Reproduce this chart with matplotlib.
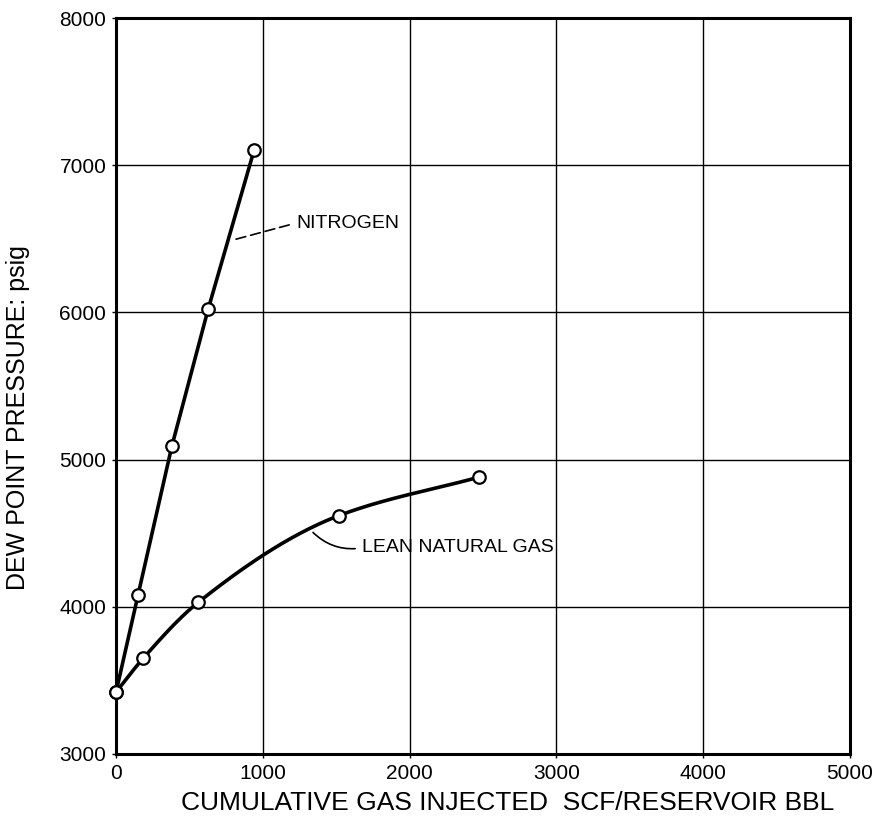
import numpy as np
import matplotlib
matplotlib.use("Agg")
import matplotlib.pyplot as plt

# data
n2_x = [0, 150, 380, 627, 940]
n2_y = [3420, 4080, 5090, 6020, 7100]
lean_x = [0, 185, 560, 1520, 2470]
lean_y = [3420, 3650, 4030, 4620, 4880]
xticks = [0, 1000, 2000, 3000, 4000, 5000]
yticks = [3000, 4000, 5000, 6000, 7000, 8000]

plt.rcParams['font.family'] = ['Liberation Sans', 'DejaVu Sans']


def smooth(x, y, n=200):
    # monotone cubic hermite, only used to draw the line through the points
    x = np.asarray(x, float); y = np.asarray(y, float)
    h = np.diff(x); d = np.diff(y) / h
    m = np.zeros_like(x)
    m[0] = d[0]; m[-1] = d[-1]
    for i in range(1, len(x) - 1):
        if d[i-1] * d[i] > 0:
            w1 = 2*h[i] + h[i-1]; w2 = h[i] + 2*h[i-1]
            m[i] = (w1 + w2) / (w1/d[i-1] + w2/d[i])
    xs = np.linspace(x[0], x[-1], n)
    idx = np.clip(np.searchsorted(x, xs) - 1, 0, len(x) - 2)
    t = (xs - x[idx]) / h[idx]
    h00 = 2*t**3 - 3*t**2 + 1; h10 = t**3 - 2*t**2 + t
    h01 = -2*t**3 + 3*t**2; h11 = t**3 - t**2
    ys = h00*y[idx] + h10*h[idx]*m[idx] + h01*y[idx+1] + h11*h[idx]*m[idx+1]
    return xs, ys


fig = plt.figure(figsize=(8.81, 8.30), dpi=100)
ax = fig.add_axes([0.1317, 0.0916, 0.8331, 0.8867])

ax.set_xlim(0, 5000)
ax.set_ylim(3000, 8000)
ax.set_xticks(xticks)
ax.set_yticks(yticks)
ax.grid(True, color='black', lw=1.0)
ax.set_axisbelow(True)
for s in ax.spines.values():
    s.set_linewidth(2.2)
ax.tick_params(length=3, width=1, labelsize=15, pad=4)

ax.plot(n2_x, n2_y, color='black', lw=2.6, zorder=3)
ax.plot(n2_x, n2_y, ls='', marker='o', ms=9, mfc='white', mec='black', mew=1.6, zorder=4, clip_on=False)
sx, sy = smooth(lean_x, lean_y)
ax.plot(sx, sy, color='black', lw=2.6, zorder=3)
ax.plot(lean_x, lean_y, ls='', marker='o', ms=9, mfc='white', mec='black', mew=1.6, zorder=4, clip_on=False)

ax.annotate('NITROGEN', xy=(790, 6490), xytext=(1226, 6607), fontsize=14,
            va='center', ha='left',
            arrowprops=dict(arrowstyle='-', ls=(0, (6, 3)), lw=1.2, color='black',
                            shrinkA=3, shrinkB=0, relpos=(0, 0.5)))
ax.annotate('LEAN NATURAL GAS', xy=(1342, 4505), xytext=(1676, 4400), fontsize=14,
            va='center', ha='left',
            arrowprops=dict(arrowstyle='-', lw=1.2, color='black', shrinkA=3, shrinkB=0,
                            relpos=(0, 0.5), connectionstyle='arc3,rad=-0.25'))

ax.set_xlabel('CUMULATIVE GAS INJECTED  SCF/RESERVOIR BBL', fontsize=19)
ax.xaxis.set_label_coords(0.534, -0.066, transform=ax.transAxes)
ax.xaxis.label.set_va('center')
ax.set_ylabel('DEW POINT PRESSURE: psig', fontsize=18)
ax.yaxis.set_label_coords(-0.134, 0.457, transform=ax.transAxes)
ax.yaxis.label.set_va('center')

fig.savefig('out.png', dpi=100)
